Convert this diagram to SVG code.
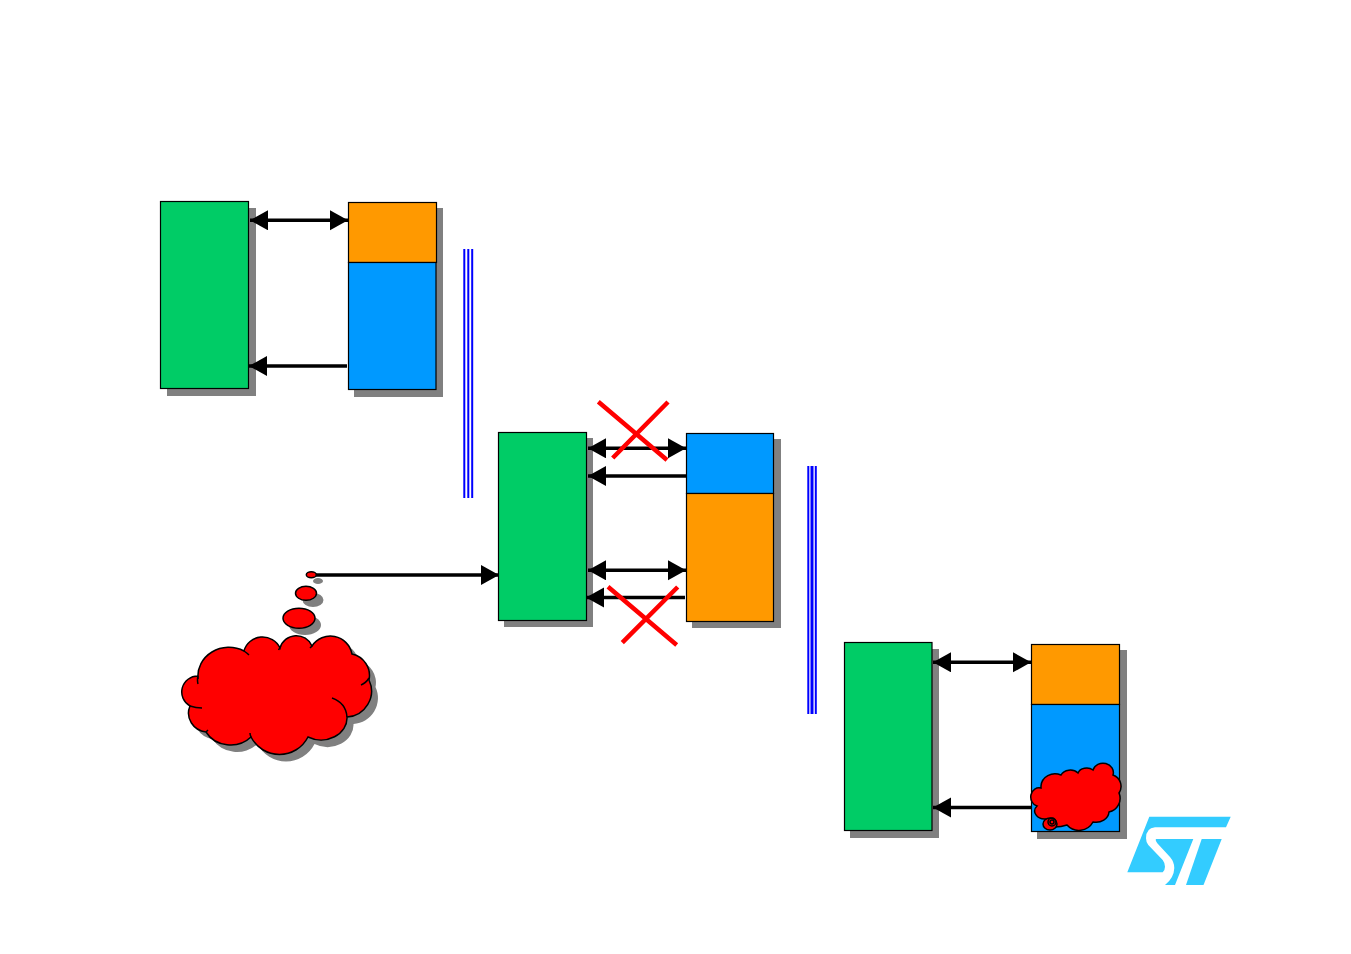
<svg xmlns="http://www.w3.org/2000/svg" width="1351" height="954" viewBox="0 0 1351 954">
<style>
.sh{fill:#808080}
.g{fill:#00CC66;stroke:#000;stroke-width:1.2}
.o{fill:#FF9900;stroke:#000;stroke-width:1.2}
.b{fill:#0099FF;stroke:#000;stroke-width:1.2}
.a{stroke:#000;stroke-width:3.5;fill:none}
.bl{stroke:#0000FF;stroke-width:2;fill:none}
.x{stroke:#FF0000;stroke-width:4.5;fill:none}
.c{fill:#FF0000;stroke:#000;stroke-width:1.5}
.h{fill:none;stroke:#000;stroke-width:1.5}
</style>
<defs>
<marker id="ah" markerUnits="userSpaceOnUse" markerWidth="20" markerHeight="22" refX="18" refY="10" orient="auto-start-reverse"><path d="M0 0L18 10L0 20Z" fill="#000"/></marker>
<path id="bigcloud" d="M198 679A31 29 0 0 1 244 651A19 18 0 0 1 280 648A17 17 0 0 1 312 646A22 22 0 0 1 352 654A22 22 0 0 1 369 680A26 26 0 0 1 347 717A26 22 0 0 1 308 737A32 32 0 0 1 251 737A28 25 0 0 1 206 732A20 19 0 0 1 190 706A16 16 0 0 1 198 676Z"/>
</defs>
<g id="node-a">
<rect class="sh" x="167" y="208" width="89" height="188"/>
<rect class="g" x="160.500" y="201.500" width="88" height="187"/>
</g>
<g id="node-b">
<rect class="sh" x="354" y="208" width="89" height="189"/>
<rect class="o" x="348.500" y="202.500" width="88" height="60"/>
<rect class="b" x="348.500" y="262.500" width="87.500" height="127"/>
</g>
<g id="node-c">
<rect class="sh" x="504" y="438" width="89" height="189"/>
<rect class="g" x="498.500" y="432.500" width="88" height="188"/>
</g>
<g id="node-d">
<rect class="sh" x="692" y="439" width="89" height="189"/>
<rect class="b" x="686.500" y="433.500" width="87" height="60"/>
<rect class="o" x="686.500" y="493.500" width="87" height="128"/>
</g>
<g id="node-e">
<rect class="sh" x="850" y="649" width="89" height="189"/>
<rect class="g" x="844.500" y="642.500" width="87.500" height="188"/>
</g>
<g id="node-f">
<rect class="sh" x="1037" y="650" width="90" height="189"/>
<rect class="o" x="1031.500" y="644.500" width="88" height="60"/>
<rect class="b" x="1031.500" y="704.500" width="88" height="127"/>
</g>
<g id="connectors">
<line class="a" x1="250" y1="220.300" x2="348" y2="220.300" marker-start="url(#ah)" marker-end="url(#ah)"/>
<line class="a" x1="347" y1="366" x2="249" y2="366" marker-end="url(#ah)"/>
<line class="a" x1="588" y1="448.300" x2="686" y2="448.300" marker-start="url(#ah)" marker-end="url(#ah)"/>
<line class="a" x1="686" y1="476" x2="588" y2="476" marker-end="url(#ah)"/>
<line class="a" x1="588" y1="570.300" x2="686" y2="570.300" marker-start="url(#ah)" marker-end="url(#ah)"/>
<line class="a" x1="685" y1="597.500" x2="586" y2="597.500" marker-end="url(#ah)"/>
<line class="a" x1="315" y1="575" x2="499" y2="575" marker-end="url(#ah)"/>
<line class="a" x1="933" y1="662.300" x2="1031" y2="662.300" marker-start="url(#ah)" marker-end="url(#ah)"/>
<line class="a" x1="1031" y1="807.500" x2="933" y2="807.500" marker-end="url(#ah)"/>
</g>
<g id="divider-1">
<path class="bl" d="M464.300 249V498M468.300 249V498M472.200 249V498"/>
</g>
<g id="divider-2">
<path class="bl" d="M808.300 466V714M815.800 466V714"/>
<path d="M812 466V714" stroke="#0000FF" stroke-width="3" fill="none"/>
</g>
<g id="cross-1">
<path class="x" d="M598.300 401.700L667 460M668 402L612.700 458"/>
</g>
<g id="cross-2">
<path class="x" d="M608 586.700L676.700 645M677.700 587L622.300 642.700"/>
</g>
<g id="thought-cloud">
<use href="#bigcloud" class="sh" transform="translate(6.500 7)"/>
<ellipse class="sh" cx="305" cy="625" rx="16" ry="10"/>
<ellipse class="sh" cx="313" cy="600" rx="10.500" ry="7"/>
<ellipse class="sh" cx="318" cy="581" rx="5" ry="3"/>
<use href="#bigcloud" class="c"/>
<path class="h" d="M198 676Q197 680 198 684M244 651Q247 653 249 655M280 648Q279 649 278.500 650M312 646Q311 647 310 648M369 678Q366 683 361 685M332 698Q346 703 347 717M251 737Q250 735 250 733M206 732Q207 731 208 730M190 706Q196 708 202 708"/>
<ellipse class="c" cx="299" cy="618.300" rx="16" ry="10"/>
<ellipse class="c" cx="306" cy="593.300" rx="10.500" ry="7"/>
<ellipse class="c" cx="311.300" cy="574.700" rx="5" ry="3"/>
</g>
<g id="small-cloud">
<path class="c" d="M1041 786A14 13 0 0 1 1061 775A10 8 0 0 1 1078 773A9 7 0 0 1 1093 770A10 9 0 0 1 1113 775A12 12 0 0 1 1119 793A14 14 0 0 1 1109 812A13 11 0 0 1 1093 822A16 16 0 0 1 1067 825Q1061 827 1055 827L1046 819A10 8 0 0 1 1037 806A8 9 0 0 1 1041 788Z"/>
<ellipse class="c" cx="1050" cy="824" rx="7" ry="6"/>
<circle class="h" cx="1052" cy="822" r="4"/>
<circle class="h" cx="1052" cy="822" r="2"/>
</g>
<g id="logo" fill="#33CCFF">
<path d="M1149.300 816.700H1230.700L1226 827.300H1155Q1146 828 1146 838.300Q1146 842 1148.300 845L1162.700 860Q1165 863 1165 866.700Q1165 870 1162.700 872.300H1127.300Z"/>
<path d="M1156 839H1193.300L1175 885H1165Q1174 878 1174.300 868Q1174.300 862 1170 857L1157.300 843.300Q1155 840 1156 839Z"/>
<path d="M1201.700 839H1221.700L1203.500 885H1186Z"/>
</g>
</svg>
